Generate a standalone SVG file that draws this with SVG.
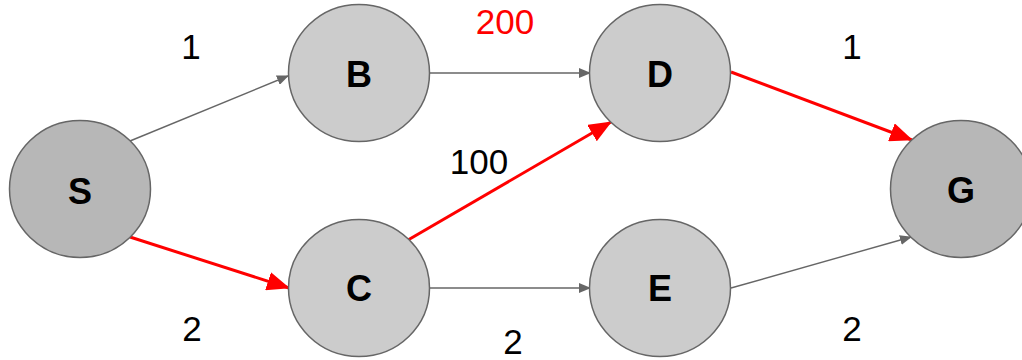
<svg xmlns="http://www.w3.org/2000/svg" width="1022" height="360" viewBox="0 0 1022 360">
  <style>
    .node { stroke: #666666; stroke-width: 1.5; }
    .light { fill: #cccccc; }
    .dark { fill: #b7b7b7; }
    .nlabel { font-family: "Liberation Sans", Arial, sans-serif; font-weight: bold; font-size: 36px; text-anchor: middle; fill: #000000; }
    .wlabel { font-family: "Liberation Sans", Arial, sans-serif; font-size: 35px; text-anchor: middle; fill: #000000; }
    .edge { fill: none; stroke: #666666; stroke-width: 1.4; }
    .hot { fill: none; stroke: #ff0000; stroke-width: 3; }
  </style>
  <defs>
    <marker id="arrow-gray" markerUnits="userSpaceOnUse" markerWidth="12" markerHeight="10" refX="11" refY="5" orient="auto">
      <path d="M0,0 L12,5 L0,10 Z" fill="#666666"/>
    </marker>
    <marker id="arrow-red" markerUnits="userSpaceOnUse" markerWidth="23" markerHeight="19" refX="22" refY="9.5" orient="auto">
      <path d="M0,0 L23,9.5 L0,19 Z" fill="#ff0000"/>
    </marker>
  </defs>

  <g id="connectors">
    <line class="edge" x1="130" y1="141" x2="288" y2="76" marker-end="url(#arrow-gray)"/>
    <line class="edge" x1="430" y1="73" x2="590" y2="73" marker-end="url(#arrow-gray)"/>
    <line class="edge" x1="430" y1="288" x2="590" y2="288" marker-end="url(#arrow-gray)"/>
    <line class="edge" x1="731" y1="288" x2="911" y2="237" marker-end="url(#arrow-gray)"/>
    <line class="hot" x1="130" y1="237" x2="289" y2="288" marker-end="url(#arrow-red)"/>
    <line class="hot" x1="408" y1="240" x2="611" y2="122" marker-end="url(#arrow-red)"/>
    <line class="hot" x1="731" y1="72" x2="912" y2="140" marker-end="url(#arrow-red)"/>
  </g>

  <g id="weights">
    <text class="wlabel" x="191" y="59">1</text>
    <text class="wlabel" x="505" y="34" style="fill:#ff0000">200</text>
    <text class="wlabel" x="852" y="59">1</text>
    <text class="wlabel" x="479" y="174">100</text>
    <text class="wlabel" x="192" y="341">2</text>
    <text class="wlabel" x="513" y="354">2</text>
    <text class="wlabel" x="852" y="341">2</text>
  </g>

  <g id="node-S">
    <ellipse class="node dark" cx="80" cy="189" rx="70.5" ry="68.5"/>
    <text class="nlabel" x="80" y="204">S</text>
  </g>
  <g id="node-B">
    <ellipse class="node light" cx="359" cy="73" rx="70.5" ry="68.5"/>
    <text class="nlabel" x="359" y="87">B</text>
  </g>
  <g id="node-D">
    <ellipse class="node light" cx="660" cy="73" rx="70.5" ry="68.5"/>
    <text class="nlabel" x="660" y="87">D</text>
  </g>
  <g id="node-C">
    <ellipse class="node light" cx="359" cy="288" rx="70.5" ry="68.5"/>
    <text class="nlabel" x="359" y="301">C</text>
  </g>
  <g id="node-E">
    <ellipse class="node light" cx="660" cy="288" rx="70.5" ry="68.5"/>
    <text class="nlabel" x="660" y="301">E</text>
  </g>
  <g id="node-G">
    <ellipse class="node dark" cx="961" cy="189" rx="70.5" ry="68.5"/>
    <text class="nlabel" x="961" y="203">G</text>
  </g>
</svg>
